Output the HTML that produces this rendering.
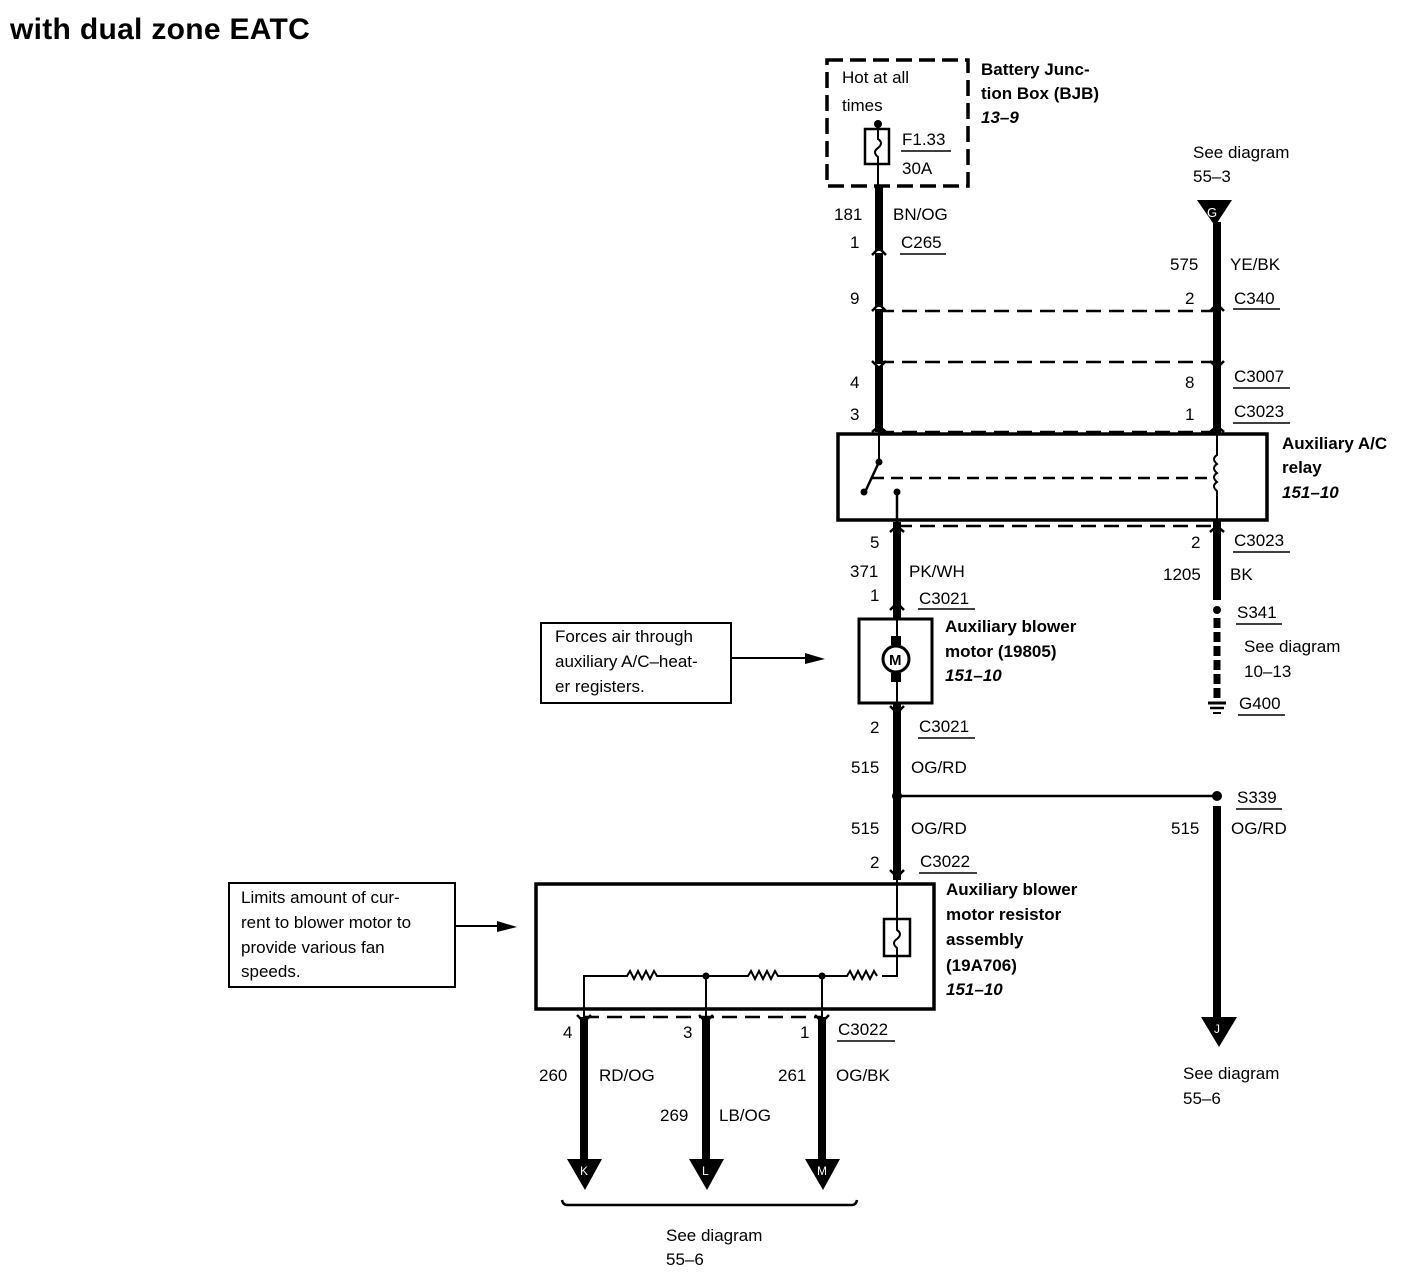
<!DOCTYPE html>
<html><head><meta charset="utf-8"><style>
html,body{margin:0;padding:0;background:#fff}
svg{display:block}
text{font-family:"Liberation Sans",Arial,sans-serif;font-size:17px;fill:#000}
.b{font-weight:bold}
.bi{font-weight:bold;font-style:italic}
</style></head><body>
<svg width="1416" height="1280" viewBox="0 0 1416 1280" xmlns="http://www.w3.org/2000/svg">
<text x="10" y="39" class="b" style="font-size:30px;letter-spacing:0.3px">with dual zone EATC</text>

<!-- BJB -->
<rect x="827" y="60" width="141" height="126" fill="none" stroke="#000" stroke-width="3.5" stroke-dasharray="16,7"/>
<text x="842" y="83">Hot at all</text>
<text x="842" y="111">times</text>
<circle cx="878" cy="124" r="4"/>
<rect x="865" y="129" width="24" height="35" fill="none" stroke="#000" stroke-width="2.5"/>
<path d="M878 124 V139 q6 4 0 9 q-6 4 0 9 V186" fill="none" stroke="#000" stroke-width="2"/>
<text x="902" y="145">F1.33</text>
<line x1="901" y1="151" x2="951" y2="151" stroke="#000" stroke-width="1.5"/>
<text x="902" y="174">30A</text>
<text x="981" y="75" class="b">Battery Junc-</text>
<text x="981" y="99" class="b">tion Box (BJB)</text>
<text x="981" y="123" class="bi">13–9</text>

<!-- left upper wire -->
<line x1="879" y1="186" x2="879" y2="432" stroke="#000" stroke-width="8"/>
<g fill="none" stroke="#fff" stroke-width="2">
<line x1="872" y1="252" x2="886" y2="252"/><line x1="872" y1="308" x2="886" y2="308"/><line x1="872" y1="365" x2="886" y2="365"/>
</g>
<g fill="none" stroke="#000" stroke-width="2.5">
<polyline points="872,255 879,248 886,255"/><polyline points="872,311 879,304 886,311"/>
<polyline points="872,361 879,368 886,361"/><polyline points="872,432 879,426 886,432"/>
<polyline points="1210,311 1217,304 1224,311"/><polyline points="1210,361 1217,368 1224,361"/>
<polyline points="1210,432 1217,426 1224,432"/>
</g>
<text x="834" y="220">181</text><text x="893" y="220">BN/OG</text>
<text x="850" y="248">1</text><text x="901" y="248">C265</text>
<line x1="900" y1="254" x2="946" y2="254" stroke="#000" stroke-width="1.5"/>
<text x="850" y="304">9</text>
<text x="850" y="388">4</text>
<text x="850" y="420">3</text>

<!-- dashed connector lines -->
<g stroke="#000" stroke-width="2.5" stroke-dasharray="15,8">
<line x1="879" y1="311" x2="1217" y2="311"/>
<line x1="879" y1="362" x2="1217" y2="362"/>
<line x1="879" y1="432" x2="1217" y2="432"/>
<line x1="897" y1="526" x2="1217" y2="526"/>
<line x1="584" y1="1017" x2="822" y2="1017"/>
</g>

<!-- right upper -->
<text x="1193" y="158">See diagram</text>
<text x="1193" y="182">55–3</text>
<polygon points="1197,200 1232,200 1215,226" fill="#000"/>
<text x="1207" y="217" style="font-size:13px;fill:#fff">G</text>
<line x1="1217" y1="222" x2="1217" y2="600" stroke="#000" stroke-width="8"/>
<text x="1170" y="270">575</text><text x="1230" y="270">YE/BK</text>
<text x="1185" y="304">2</text><text x="1234" y="304">C340</text>
<line x1="1233" y1="309" x2="1280" y2="309" stroke="#000" stroke-width="1.5"/>
<text x="1185" y="388">8</text><text x="1234" y="382">C3007</text>
<line x1="1233" y1="388" x2="1290" y2="388" stroke="#000" stroke-width="1.5"/>
<text x="1185" y="420">1</text><text x="1234" y="417">C3023</text>
<line x1="1233" y1="423" x2="1290" y2="423" stroke="#000" stroke-width="1.5"/>

<!-- relay -->
<rect x="838" y="434" width="429" height="86" fill="#fff" stroke="#000" stroke-width="3.5"/>
<line x1="879" y1="432" x2="879" y2="462" stroke="#000" stroke-width="2"/>
<circle cx="879" cy="462" r="3.5"/>
<line x1="879" y1="462" x2="866" y2="490" stroke="#000" stroke-width="2.5"/>
<circle cx="864" cy="492" r="3.5"/>
<circle cx="897" cy="492" r="3.5"/>
<line x1="897" y1="492" x2="897" y2="525" stroke="#000" stroke-width="2.5"/>
<line x1="872" y1="478" x2="1212" y2="478" stroke="#000" stroke-width="2.5" stroke-dasharray="12,7"/>
<path d="M1217 434 V455 q-6 4 0 9 q-6 4 0 9 q-6 4 0 9 q-6 4 0 9 V520" fill="none" stroke="#000" stroke-width="2"/>
<text x="1282" y="449" class="b">Auxiliary A/C</text>
<text x="1282" y="473" class="b">relay</text>
<text x="1282" y="498" class="bi">151–10</text>

<!-- middle wire -->
<line x1="897" y1="522" x2="897" y2="618" stroke="#000" stroke-width="8"/>
<g fill="none" stroke="#000" stroke-width="2.5">
<polyline points="890,532 897,526 904,532"/><polyline points="1210,532 1217,526 1224,532"/>
<polyline points="890,610 897,603 904,610"/><polyline points="890,706 897,713 904,706"/>
<polyline points="890,870 897,877 904,870"/>
</g>
<text x="870" y="548">5</text><text x="1191" y="548">2</text>
<text x="1234" y="546">C3023</text>
<line x1="1233" y1="552" x2="1290" y2="552" stroke="#000" stroke-width="1.5"/>
<text x="850" y="577">371</text><text x="909" y="577">PK/WH</text>
<text x="1163" y="580">1205</text><text x="1230" y="580">BK</text>
<text x="870" y="601">1</text><text x="919" y="604">C3021</text>
<line x1="918" y1="609" x2="975" y2="609" stroke="#000" stroke-width="1.5"/>

<!-- ground -->
<circle cx="1217" cy="610" r="4"/>
<line x1="1217" y1="618" x2="1217" y2="700" stroke="#000" stroke-width="7" stroke-dasharray="10,4"/>
<line x1="1208" y1="703" x2="1226" y2="703" stroke="#000" stroke-width="3"/>
<line x1="1210" y1="708" x2="1224" y2="708" stroke="#000" stroke-width="2.5"/>
<line x1="1213" y1="713" x2="1221" y2="713" stroke="#000" stroke-width="2"/>
<text x="1237" y="618">S341</text>
<line x1="1236" y1="624" x2="1282" y2="624" stroke="#000" stroke-width="1.5"/>
<text x="1244" y="652">See diagram</text>
<text x="1244" y="677">10–13</text>
<text x="1239" y="709">G400</text>
<line x1="1238" y1="715" x2="1285" y2="715" stroke="#000" stroke-width="1.5"/>

<!-- motor -->
<rect x="859" y="619" width="73" height="84" fill="#fff" stroke="#000" stroke-width="3"/>
<line x1="897" y1="619" x2="897" y2="703" stroke="#000" stroke-width="2"/>
<rect x="891" y="636" width="10" height="9" fill="#000"/>
<rect x="891" y="673" width="10" height="9" fill="#000"/>
<circle cx="896" cy="659" r="13" fill="#fff" stroke="#000" stroke-width="3"/>
<text x="889" y="665" class="b" style="font-size:15px">M</text>
<text x="945" y="632" class="b">Auxiliary blower</text>
<text x="945" y="657" class="b">motor (19805)</text>
<text x="945" y="681" class="bi">151–10</text>

<rect x="541" y="623" width="190" height="80" fill="none" stroke="#000" stroke-width="2"/>
<text x="555" y="642">Forces air through</text>
<text x="555" y="667">auxiliary A/C–heat-</text>
<text x="555" y="692">er registers.</text>
<line x1="731" y1="658" x2="810" y2="658" stroke="#000" stroke-width="2"/>
<polygon points="805,653 825,659 805,664" fill="#000"/>

<line x1="897" y1="703" x2="897" y2="880" stroke="#000" stroke-width="8"/>
<text x="870" y="733">2</text><text x="919" y="732">C3021</text>
<line x1="918" y1="738" x2="975" y2="738" stroke="#000" stroke-width="1.5"/>
<text x="851" y="773">515</text><text x="911" y="773">OG/RD</text>
<circle cx="897" cy="796" r="5" fill="#000"/>
<line x1="897" y1="796" x2="1217" y2="796" stroke="#000" stroke-width="2.5"/>
<circle cx="1217" cy="796" r="5"/>
<text x="851" y="834">515</text><text x="911" y="834">OG/RD</text>
<text x="870" y="868">2</text><text x="920" y="867">C3022</text>
<line x1="919" y1="873" x2="977" y2="873" stroke="#000" stroke-width="1.5"/>
<text x="1237" y="803">S339</text>
<line x1="1236" y1="809" x2="1282" y2="809" stroke="#000" stroke-width="1.5"/>
<text x="1171" y="834">515</text><text x="1231" y="834">OG/RD</text>
<line x1="1217" y1="806" x2="1217" y2="1020" stroke="#000" stroke-width="8"/>
<polygon points="1201,1017 1237,1017 1219,1047" fill="#000"/>
<text x="1214" y="1033" style="font-size:12px;fill:#fff">J</text>
<text x="1183" y="1079">See diagram</text>
<text x="1183" y="1104">55–6</text>

<!-- resistor assembly -->
<rect x="536" y="884" width="398" height="125" fill="#fff" stroke="#000" stroke-width="3.5"/>
<line x1="897" y1="880" x2="897" y2="918" stroke="#000" stroke-width="2"/>
<rect x="884" y="919" width="26" height="37" fill="none" stroke="#000" stroke-width="2.5"/>
<path d="M897 919 V930 q6 4 0 9 q-6 4 0 9 V976 H882" fill="none" stroke="#000" stroke-width="2"/>
<g fill="none" stroke="#000" stroke-width="2">
<path d="M584 1017 V976 H627 l3 -5 l4 8 l4 -8 l4 8 l4 -8 l4 8 l4 -8 l3 5 H748 l3 -5 l4 8 l4 -8 l4 8 l4 -8 l4 8 l4 -8 l3 5 H847 l3 -5 l4 8 l4 -8 l4 8 l4 -8 l4 8 l4 -8 l3 5"/>
<line x1="706" y1="976" x2="706" y2="1017"/>
<line x1="822" y1="976" x2="822" y2="1017"/>
</g>
<circle cx="706" cy="976" r="3.5"/><circle cx="822" cy="976" r="3.5"/>
<text x="946" y="895" class="b">Auxiliary blower</text>
<text x="946" y="920" class="b">motor resistor</text>
<text x="946" y="945" class="b">assembly</text>
<text x="946" y="971" class="b">(19A706)</text>
<text x="946" y="995" class="bi">151–10</text>

<rect x="229" y="883" width="226" height="104" fill="none" stroke="#000" stroke-width="2"/>
<text x="241" y="903">Limits amount of cur-</text>
<text x="241" y="928">rent to blower motor to</text>
<text x="241" y="953">provide various fan</text>
<text x="241" y="977">speeds.</text>
<line x1="456" y1="926" x2="502" y2="926" stroke="#000" stroke-width="2"/>
<polygon points="497,921 517,927 497,932" fill="#000"/>

<!-- bottom wires -->
<g stroke="#000" stroke-width="8">
<line x1="584" y1="1017" x2="584" y2="1165"/>
<line x1="706" y1="1017" x2="706" y2="1165"/>
<line x1="822" y1="1017" x2="822" y2="1165"/>
</g>
<g fill="none" stroke="#000" stroke-width="2.5">
<polyline points="577,1015 584,1022 591,1015"/><polyline points="699,1015 706,1022 713,1015"/><polyline points="815,1015 822,1022 829,1015"/>
</g>
<g fill="#000">
<polygon points="567,1159 602,1159 585,1190"/>
<polygon points="689,1159 724,1159 707,1190"/>
<polygon points="805,1159 840,1159 823,1190"/>
</g>
<text x="580" y="1175" style="font-size:12px;fill:#fff">K</text>
<text x="702" y="1175" style="font-size:12px;fill:#fff">L</text>
<text x="817" y="1175" style="font-size:12px;fill:#fff">M</text>
<text x="563" y="1038">4</text><text x="683" y="1038">3</text><text x="800" y="1038">1</text>
<text x="838" y="1035">C3022</text>
<line x1="837" y1="1041" x2="895" y2="1041" stroke="#000" stroke-width="1.5"/>
<text x="539" y="1081">260</text><text x="599" y="1081">RD/OG</text>
<text x="778" y="1081">261</text><text x="836" y="1081">OG/BK</text>
<text x="660" y="1121">269</text><text x="719" y="1121">LB/OG</text>
<path d="M562 1200 q1 5 5 5 H852 q4 0 5 -5" fill="none" stroke="#000" stroke-width="2.5"/>
<text x="666" y="1241">See diagram</text>
<text x="666" y="1265">55–6</text>
</svg>
</body></html>
